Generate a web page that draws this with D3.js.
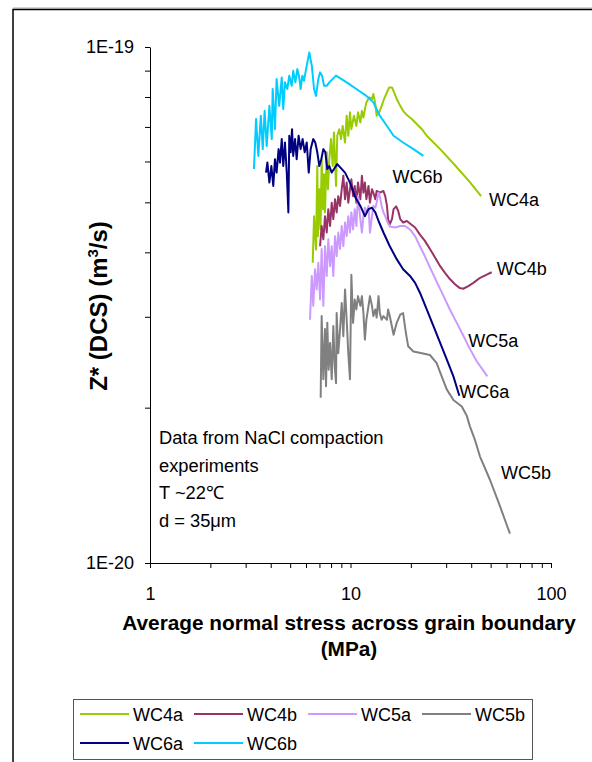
<!DOCTYPE html>
<html><head><meta charset="utf-8">
<script src="https://cdn.jsdelivr.net/npm/d3@7"></script>
<style>
body{margin:0;background:#fff;}
svg{display:block;font-family:"Liberation Sans",Arial,Helvetica,sans-serif;}
</style></head><body><svg id="c" width="592" height="762"></svg>
<script>
// ---------- DATA ----------
const seriesNames  = ["WC4a","WC4b","WC5a","WC5b","WC6a","WC6b"];
const seriesColors = ["#99CC00","#993366","#CC99FF","#808080","#000080","#00CCFF"];
// Z* values are given in units of 1E-20 m^3/s
const Z_UNIT = 1e-20;

const wc4aStress = [6.48,6.58,6.73,6.83,6.88,6.99,7.09,7.18,7.29,7.38,7.46,7.61,7.72,7.84,7.99,8.15,8.27,8.47,8.59,8.79,8.97,9.14,9.39,9.57,9.75,9.94,10.1,10.4,10.7,10.9,11.2,11.4,11.6,11.8,12.0,12.4,12.8,13.0,13.3,13.5,13.9,14.3,14.7,15.2,15.6,16.1,16.5,17.0,17.7,18.3,19.1,20.2,21.4,22.7,24.0,28.0,33.2,39.4,44.8];
const wc4aZ      = [3.82,4.70,4.05,5.88,4.30,5.30,4.43,6.06,4.85,5.67,4.78,6.25,5.30,6.06,6.63,5.88,6.83,5.38,6.73,6.93,6.63,7.03,6.53,7.36,6.73,7.47,6.93,7.36,7.03,7.47,7.14,7.52,7.30,7.58,7.81,7.99,7.93,8.11,7.75,7.36,7.47,7.69,7.93,8.17,8.35,8.35,8.17,7.93,7.69,7.52,7.38,7.25,7.09,6.93,6.73,6.34,5.90,5.47,5.14];

const wc4bStress = [7.05,7.18,7.32,7.46,7.61,7.75,7.91,8.06,8.21,8.37,8.53,8.69,8.87,9.04,9.21,9.39,9.57,9.75,9.94,10.1,10.3,10.5,10.7,10.9,11.2,11.4,11.6,11.8,12.0,12.3,12.5,12.8,13.0,13.3,13.5,14.0,14.6,14.9,15.2,15.4,15.7,16.1,16.4,16.9,17.3,17.7,18.3,19.1,19.8,21.0,22.2,23.5,24.9,26.4,28.0,29.6,31.3,33.2,35.1,36.5,38.7,41.0,44.3,47.8,50.6];
const wc4bZ      = [4.11,4.50,4.24,4.70,4.37,4.85,4.50,4.99,4.64,5.07,4.78,5.14,4.92,5.30,5.63,5.07,5.46,4.99,5.30,5.54,5.14,5.38,4.99,5.46,5.07,5.63,5.22,5.46,5.07,5.38,4.99,5.30,5.22,5.07,5.26,5.22,5.26,5.14,4.92,4.64,4.53,4.64,4.85,4.91,4.81,4.64,4.57,4.60,4.55,4.47,4.33,4.21,4.06,3.91,3.76,3.65,3.55,3.47,3.41,3.40,3.44,3.49,3.57,3.62,3.66];

const wc5aStress = [6.28,6.41,6.52,6.65,6.78,6.91,7.05,7.18,7.32,7.46,7.61,7.75,7.91,8.06,8.21,8.37,8.53,8.69,8.87,9.04,9.21,9.39,9.57,9.75,9.94,10.1,10.3,10.5,10.7,10.9,11.2,11.4,11.6,11.8,12.0,12.3,12.5,12.8,13.0,13.3,13.5,13.8,14.0,14.3,14.6,14.9,15.2,15.7,16.7,17.7,18.7,19.8,21.0,22.2,23.5,24.9,26.9,29.0,31.3,33.9,36.5,39.4,42.6,46.0,48.1];
const wc5aZ      = [2.96,3.60,3.15,3.71,3.39,3.82,3.24,4.06,3.15,4.11,3.60,4.24,3.76,4.11,3.60,4.30,3.93,4.37,4.06,4.50,4.11,4.57,4.30,4.70,4.37,4.78,4.43,4.85,4.50,5.14,4.64,4.37,4.70,4.88,4.78,4.92,4.37,4.70,4.92,4.88,4.99,5.22,5.14,4.92,4.78,4.70,4.60,4.49,4.47,4.50,4.50,4.43,4.30,4.11,3.93,3.74,3.51,3.30,3.10,2.92,2.76,2.60,2.46,2.36,2.30];

const wc5bStress = [7.10,7.18,7.32,7.46,7.55,7.66,7.78,7.91,8.06,8.21,8.34,8.47,8.53,8.69,8.87,9.04,9.21,9.39,9.57,9.75,9.94,10.1,10.3,10.5,10.7,10.9,11.2,11.4,11.6,11.8,12.0,12.3,12.5,12.8,13.0,13.3,13.5,13.8,14.0,14.3,14.6,15.2,15.4,15.7,16.4,17.0,17.7,18.3,18.9,19.4,20.6,22.7,24.9,26.9,28.5,30.2,32.6,35.9,38.0,39.4,41.8,44.2,49.6,55.6,62.4];
const wc5bZ      = [2.09,3.01,2.27,2.84,2.20,2.92,2.37,2.67,2.27,2.88,2.41,2.23,3.05,2.55,2.84,3.19,2.75,3.39,2.96,2.55,2.27,3.62,2.92,3.24,3.10,3.29,3.15,3.29,3.05,2.71,2.96,3.15,3.29,3.15,3.01,3.10,2.99,3.29,3.05,2.96,3.01,2.96,3.10,3.01,2.77,2.92,3.03,3.05,2.79,2.63,2.57,2.55,2.53,2.44,2.30,2.17,2.07,2.01,1.93,1.84,1.73,1.61,1.45,1.29,1.14];

const wc6aStress = [3.79,3.85,3.94,4.03,4.12,4.20,4.28,4.38,4.45,4.54,4.62,4.71,4.81,4.90,4.95,5.03,5.11,5.18,5.29,5.39,5.51,5.64,5.77,5.91,6.05,6.19,6.33,6.52,6.67,6.83,6.99,7.15,7.32,7.49,7.66,7.84,8.06,8.59,9.39,9.94,10.5,11.2,11.8,12.3,12.8,13.3,13.8,14.6,15.7,17.0,18.3,19.8,21.0,22.2,24.0,25.9,28.0,30.2,32.6,34.9];
const wc6aZ      = [5.71,5.97,5.46,5.88,5.38,6.06,5.71,6.34,5.97,6.63,5.88,6.53,5.71,4.78,6.73,6.25,6.93,6.15,6.63,6.06,6.73,6.34,6.63,6.25,6.53,5.71,6.34,6.63,6.53,6.25,5.88,6.06,6.34,6.25,5.80,5.88,5.71,5.93,5.71,5.46,5.14,4.92,4.70,4.85,4.88,4.78,4.60,4.37,4.11,3.88,3.71,3.60,3.49,3.34,3.10,2.88,2.67,2.48,2.30,2.11];

const wc6bStress = [3.30,3.38,3.47,3.57,3.65,3.73,3.82,3.94,4.05,4.09,4.20,4.28,4.41,4.54,4.62,4.71,4.84,4.95,5.09,5.18,5.31,5.43,5.55,5.64,5.75,5.86,6.05,6.23,6.41,6.58,6.73,6.91,7.05,7.21,7.38,7.61,7.84,8.47,9.57,10.7,12.0,13.0,14.0,15.2,16.4,18.3,20.6,23.1];
const wc6bZ      = [5.80,7.25,6.15,7.36,6.34,7.52,6.43,7.69,6.63,8.29,6.93,8.67,7.69,8.73,7.58,8.54,8.29,8.80,8.41,8.99,8.54,9.06,8.73,8.29,8.80,8.60,9.20,9.76,9.20,8.29,8.04,8.67,8.93,8.80,8.41,8.41,8.54,8.80,8.54,8.29,8.04,7.81,7.36,7.03,6.73,6.53,6.34,6.15];

const xMajorTicks  = [1,10,100];
const xTickLabels  = ["1","10","100"];
const yMajorTicks  = [1e-20,1e-19];
const yTickLabels  = ["1E-20","1E-19"];
const noteLines = ["Data from NaCl compaction","experiments","T ~22\u2103","d = 35\u03BCm"];

// ---------- LAYOUT ----------
const W = 592, H = 762;
const svg = d3.select("#c");
const x = d3.scaleLog().domain([1,100]).range([150,551]);
const y = d3.scaleLog().domain([1e-20,1e-19]).range([563,47]);

// outer frame
svg.append("line").attr("x1",13).attr("x2",W).attr("y1",8).attr("y2",8).attr("stroke","#aaa").attr("stroke-width",1);
svg.append("path").attr("d",`M13,${H} V9.5 H${W}`).attr("fill","none").attr("stroke","#000").attr("stroke-width",1.5);

const series = [
  {stress:wc4aStress, z:wc4aZ, lab:[8,10]},
  {stress:wc4bStress, z:wc4bZ, lab:[5,3]},
  {stress:wc5aStress, z:wc5aZ, lab:[-19,-29]},
  {stress:wc5bStress, z:wc5bZ, lab:[-9,-55]},
  {stress:wc6aStress, z:wc6aZ, lab:[0,2]},
  {stress:wc6bStress, z:wc6bZ, lab:[-31,27]}
].map((s,i)=>({name:seriesNames[i], color:seriesColors[i], lab:s.lab,
   pts:s.stress.map((v,j)=>[v, s.z[j]*Z_UNIT])}));

// axes
function minors(lo, hi){const a=[];for(let d=lo; d<hi; d*=10){for(let k=1;k<=9;k++)a.push(d*k);}a.push(hi);return a;}
const xAxis = d3.axisBottom(x).tickValues(minors(1,100)).tickSize(5).tickSizeOuter(0)
  .tickPadding(19)
  .tickFormat(d=>{const i=xMajorTicks.findIndex(v=>Math.abs(v-d)/v<1e-9);return i>=0?xTickLabels[i]:"";});
const gx = svg.append("g").attr("transform","translate(0,563)").call(xAxis);
const yAxis = d3.axisLeft(y).tickValues(minors(1e-20,1e-19)).tickSize(5).tickSizeOuter(0)
  .tickPadding(11)
  .tickFormat(d=>{const i=yMajorTicks.findIndex(v=>Math.abs(v-d)/v<1e-9);return i>=0?yTickLabels[i]:"";});
const gy = svg.append("g").attr("transform","translate(150,0)").call(yAxis);
[gx,gy].forEach(g=>{
  g.selectAll("path.domain").attr("stroke","#000").attr("stroke-width",1);
  g.selectAll(".tick line").attr("stroke","#000");
  g.selectAll("text").attr("font-size",18).attr("fill","#000").attr("font-family",'"Liberation Sans",Arial,sans-serif');
});

// series lines
const line = d3.line().x(d=>x(d[0])).y(d=>y(d[1]));
series.forEach(s=>{
  svg.append("path").datum(s.pts).attr("d",line).attr("fill","none")
    .attr("stroke",s.color).attr("stroke-width",2).attr("stroke-linejoin","round");
});
// series end labels
series.forEach(s=>{
  const last = s.pts[s.pts.length-1];
  svg.append("text").attr("x",x(last[0])+s.lab[0]).attr("y",y(last[1])+s.lab[1])
    .attr("font-size",18).text(s.name);
});

// note
const note = svg.append("text").attr("x",159).attr("y",444).attr("font-size",18.3);
noteLines.forEach((t,i)=>note.append("tspan").attr("x",159).attr("y",444+i*27.5).text(t));

// axis titles
svg.append("text").attr("x",349).attr("y",630).attr("text-anchor","middle")
  .attr("font-size",20.8).attr("font-weight","bold").text("Average normal stress across grain boundary");
svg.append("text").attr("x",349).attr("y",656).attr("text-anchor","middle")
  .attr("font-size",20.8).attr("font-weight","bold").text("(MPa)");
const yt = svg.append("text").attr("transform","translate(107,306) rotate(-90)").attr("text-anchor","middle")
  .attr("font-size",24).attr("font-weight","bold");
yt.append("tspan").text("Z* (DCS) (m");
yt.append("tspan").attr("font-size",15).attr("dy",-9).text("3");
yt.append("tspan").attr("dy",9).text("/s)");

// legend
svg.append("rect").attr("x",73.5).attr("y",699.5).attr("width",459).attr("height",60)
  .attr("fill","none").attr("stroke","#555").attr("stroke-width",1);
const legX = [80,194,308,422], legY = [714,743];
series.forEach((s,i)=>{
  const cx = legX[i%4], cy = legY[Math.floor(i/4)];
  svg.append("line").attr("x1",cx).attr("x2",cx+49).attr("y1",cy).attr("y2",cy)
    .attr("stroke",s.color).attr("stroke-width",2);
  svg.append("text").attr("x",cx+53).attr("y",cy+6.5).attr("font-size",18).text(s.name);
});
</script></body></html>
